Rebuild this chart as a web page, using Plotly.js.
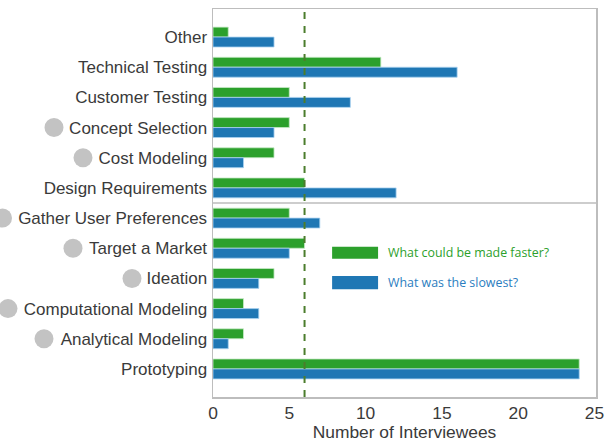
<!DOCTYPE html>
<html>
<head>
<meta charset="utf-8">
<script src="https://cdn.plot.ly/plotly-3.0.1.min.js"></script>
<style>
  html, body { margin: 0; padding: 0; background: #fff; }
  #chart { width: 607px; height: 442px; }
</style>
</head>
<body>
<div id="chart"></div>
<script>
// Design activities, listed top to bottom
const activities = [
  "Other",
  "Technical Testing",
  "Customer Testing",
  "Concept Selection",
  "Cost Modeling",
  "Design Requirements",
  "Gather User Preferences",
  "Target a Market",
  "Ideation",
  "Computational Modeling",
  "Analytical Modeling",
  "Prototyping"
];

// Interviewee counts per activity
const couldBeFaster = [1, 11, 5, 5, 4, 6, 5, 6, 4, 2, 2, 24];
const wasSlowest    = [4, 16, 9, 4, 2, 12, 7, 5, 3, 3, 1, 24];

// Activities flagged with a grey dot, and the dot's horizontal pixel offset from the plot's left edge
const flagged = [
  ["Concept Selection", -159],
  ["Cost Modeling", -130],
  ["Gather User Preferences", -210.5],
  ["Target a Market", -140],
  ["Ideation", -81],
  ["Computational Modeling", -205],
  ["Analytical Modeling", -169]
];

const referenceLine = 6;      // dashed reference count
const groupBoundary = 5.5;    // separator between the two activity groups

const seriesNames = ["What could be made faster?", "What was the slowest?"];
const green = "#2ca02c";
const blue = "#1f77b4";

const traces = [
  {
    type: "bar", orientation: "h", name: seriesNames[0],
    y: activities, x: couldBeFaster,
    marker: { color: green, line: { color: "rgba(200,235,200,0.8)", width: 1 } },
    hoverinfo: "x+y"
  },
  {
    type: "bar", orientation: "h", name: seriesNames[1],
    y: activities, x: wasSlowest,
    marker: { color: blue, line: { color: "rgba(170,210,240,0.8)", width: 1 } },
    hoverinfo: "x+y"
  }
];

const frame = "#bdbdbd";
const txt = "#3a3a3a";

const shapes = [
  {
    type: "line", xref: "x", yref: "paper",
    x0: referenceLine, x1: referenceLine, y0: 0, y1: 1,
    line: { color: "#4b7d2c", width: 2, dash: "7px,7px" }
  },
  {
    type: "line", xref: "paper", yref: "y",
    x0: 0, x1: 1, y0: groupBoundary, y1: groupBoundary,
    line: { color: frame, width: 1.5 }
  },
  // legend swatches
  {
    type: "rect", xref: "paper", yref: "paper",
    x0: 0.311, x1: 0.431, y0: 0.356, y1: 0.387,
    fillcolor: green, line: { width: 0 }
  },
  {
    type: "rect", xref: "paper", yref: "paper",
    x0: 0.311, x1: 0.431, y0: 0.278, y1: 0.312,
    fillcolor: blue, line: { width: 0 }
  }
];

flagged.forEach(([name, dx]) => {
  shapes.push({
    type: "circle", xref: "paper", yref: "y",
    xsizemode: "pixel", ysizemode: "pixel",
    xanchor: 0, yanchor: activities.indexOf(name),
    x0: dx - 9.5, x1: dx + 9.5, y0: -9.5, y1: 9.5,
    fillcolor: "#c3c3c3", line: { width: 0 }
  });
});

const legendFont = { family: "Open Sans, Noto Sans, sans-serif", size: 12.4 };

const layout = {
  width: 607, height: 442,
  margin: { l: 213, r: 11, t: 9, b: 45 },
  paper_bgcolor: "#ffffff", plot_bgcolor: "#ffffff",
  showlegend: false,
  barmode: "group",
  bargap: 0.34,
  bargroupgap: 0,
  font: { family: "Liberation Sans, Arial, sans-serif", size: 17, color: txt },
  xaxis: {
    range: [0, 25.1],
    tickvals: [0, 5, 10, 15, 20, 25],
    showgrid: false, zeroline: false,
    showline: true, mirror: true, linecolor: frame, linewidth: 1.5,
    ticks: "", ticklabelstandoff: 0,
    tickfont: { size: 17.4, color: txt },
    title: { text: "Number of Interviewees", font: { size: 17.4, color: txt }, standoff: 3 }
  },
  yaxis: {
    type: "category",
    categoryorder: "array", categoryarray: activities,
    range: [11.93, -0.93],
    showgrid: false, zeroline: false,
    showline: true, mirror: true, linecolor: frame, linewidth: 1.5,
    ticks: "", ticklabelstandoff: 1,
    tickfont: { size: 17, color: txt }
  },
  shapes: shapes,
  annotations: [
    {
      xref: "paper", yref: "paper", x: 0.452, y: 0.372,
      xanchor: "left", yanchor: "middle", showarrow: false,
      text: seriesNames[0], font: Object.assign({ color: green }, legendFont)
    },
    {
      xref: "paper", yref: "paper", x: 0.452, y: 0.295,
      xanchor: "left", yanchor: "middle", showarrow: false,
      text: seriesNames[1], font: Object.assign({ color: "#2a7dc0" }, legendFont)
    }
  ]
};

Plotly.newPlot("chart", traces, layout, { displayModeBar: false, staticPlot: true });
</script>
</body>
</html>
